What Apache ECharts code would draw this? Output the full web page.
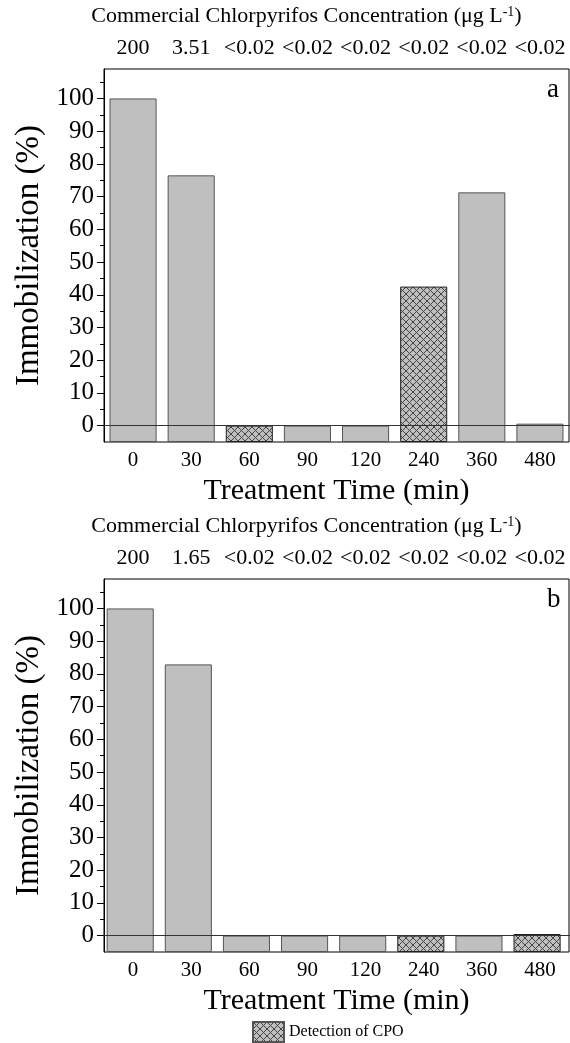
<!DOCTYPE html>
<html><head><meta charset="utf-8">
<script src="https://cdn.jsdelivr.net/npm/echarts@6/dist/echarts.min.js"></script>
<style>html,body{margin:0;padding:0;background:#fff}#c{width:570px;height:1043px}</style>
</head><body><div id="c"></div>
<script>
// ---- data ----
const categories = ['0', '30', '60', '90', '120', '240', '360', '480'];
const concLabelsA = ['200', '3.51', '<0.02', '<0.02', '<0.02', '<0.02', '<0.02', '<0.02'];
const concLabelsB = ['200', '1.65', '<0.02', '<0.02', '<0.02', '<0.02', '<0.02', '<0.02'];
const valuesA = [100, 76.5, 0, 0, 0, 42.5, 71.3, 0.6];
const valuesB = [100, 82.9, 0, 0, 0, 0, 0, 0.5];
const cpoA = [false, false, true, false, false, true, false, false];
const cpoB = [false, false, false, false, false, true, false, true];
const yMajorTicks = [0, 10, 20, 30, 40, 50, 60, 70, 80, 90, 100];
const yMinorTicks = [5, 15, 25, 35, 45, 55, 65, 75, 85, 95, 105];
const panelLetters = ['a', 'b'];
const legendName = 'Detection of CPO';
const yTitle = 'Immobilization (%)';
const xTitle = 'Treatment Time (min)';
const topTitle = 'Commercial Chlorpyrifos Concentration (μg L{sup|-1})';

// ---- styles ----
const FONT = '"Liberation Serif", "Times New Roman", serif';
const FILL = '#bfbfbf';
function hatchPattern() {
  const s = 7;
  const cv = document.createElement('canvas');
  cv.width = s; cv.height = s;
  const g = cv.getContext('2d');
  g.fillStyle = FILL; g.fillRect(0, 0, s, s);
  g.strokeStyle = '#444'; g.lineWidth = 1;
  g.beginPath();
  g.moveTo(0, 0); g.lineTo(s, s);
  g.moveTo(0, s); g.lineTo(s, 0);
  g.stroke();
  return { image: cv, repeat: 'repeat' };
}
const HATCH = hatchPattern();

const chart = echarts.init(document.getElementById('c'), null, { renderer: 'canvas' });

const grids = [
  { left: 104, top: 69, width: 465, height: 373, show: true, borderColor: '#000', borderWidth: 1, backgroundColor: 'transparent' },
  { left: 104, top: 579, width: 465, height: 373, show: true, borderColor: '#000', borderWidth: 1, backgroundColor: 'transparent' }
];

const xAxes = [], yAxes = [], series = [];
[concLabelsA, concLabelsB].forEach((conc, i) => {
  xAxes.push({
    type: 'category', gridIndex: i, position: 'bottom', data: categories,
    axisLine: { lineStyle: { color: '#000', width: 1 } },
    axisTick: { alignWithLabel: true, length: 6, lineStyle: { color: '#000' } },
    axisLabel: { margin: 8, interval: 0, fontFamily: FONT, fontSize: 21, color: '#000' },
    name: xTitle, nameLocation: 'middle', nameGap: 34,
    nameTextStyle: { fontFamily: FONT, fontSize: 30, color: '#000' }
  });
  xAxes.push({
    type: 'category', gridIndex: i, position: 'top', data: conc,
    axisLine: { lineStyle: { color: '#000', width: 1 } },
    axisTick: { alignWithLabel: true, length: 6, lineStyle: { color: '#000' } },
    axisLabel: { margin: 10, interval: 0, fontFamily: FONT, fontSize: 22, color: '#000' },
    name: topTitle, nameLocation: 'middle', nameGap: 42,
    nameTextStyle: {
      fontFamily: FONT, fontSize: 22, color: '#000', padding: [0, 60, 0, 0],
      rich: { sup: { fontFamily: FONT, fontSize: 14, color: '#000', verticalAlign: 'top', padding: [0, 0, 8, 0] } }
    }
  });
  yAxes.push({
    type: 'value', gridIndex: i, position: 'left', min: -5, max: 109, startValue: -5,
    axisLine: { show: true, lineStyle: { color: '#000', width: 1 } },
    axisTick: { show: true, length: 7, customValues: yMajorTicks, lineStyle: { color: '#000' } },
    axisLabel: { margin: 10, customValues: yMajorTicks, fontFamily: FONT, fontSize: 25, color: '#000' },
    splitLine: { show: false },
    name: yTitle, nameLocation: 'middle', nameGap: 58,
    nameTextStyle: { fontFamily: FONT, fontSize: 33, color: '#000' }
  });
  yAxes.push({
    type: 'value', gridIndex: i, position: 'left', offset: 0, min: -5, max: 109,
    axisLine: { show: false },
    axisTick: { show: true, length: 4, customValues: yMinorTicks, lineStyle: { color: '#000' } },
    axisLabel: { show: false },
    splitLine: { show: false }
  });
});

[[valuesA, cpoA], [valuesB, cpoB]].forEach(([vals, cpo], i) => {
  series.push({
    type: 'bar', name: 'Immobilization ' + panelLetters[i],
    xAxisIndex: i * 2, yAxisIndex: i * 2,
    barWidth: '81%',
    data: vals.map((v, k) => ({
      value: v,
      itemStyle: cpo[k]
        ? { color: HATCH, borderColor: '#222', borderWidth: 1 }
        : { color: FILL, borderColor: '#555', borderWidth: 1 }
    })),
    markLine: {
      silent: true, symbol: 'none', label: { show: false },
      lineStyle: { color: '#333', width: 1, type: 'solid' },
      data: [{ yAxis: 0 }]
    },
    animation: false
  });
});

series.push({
  type: 'bar', name: legendName, xAxisIndex: 2, yAxisIndex: 2, data: [],
  itemStyle: { color: HATCH, borderColor: '#555', borderWidth: 1 }, animation: false
});

chart.setOption({
  animation: false,
  backgroundColor: '#fff',
  grid: grids,
  xAxis: xAxes,
  yAxis: yAxes,
  series: series,
  legend: {
    data: [legendName], left: 252, top: 1021, icon: 'rect', padding: 0,
    itemWidth: 31, itemHeight: 20, itemGap: 6,
    textStyle: { fontFamily: FONT, fontSize: 16, color: '#000' }
  },
  graphic: panelLetters.map((t, i) => ({
    type: 'text', left: 547, top: (i === 0 ? 76 : 586),
    style: { text: t, fontFamily: FONT, fontSize: 27, fill: '#000' }
  }))
});
</script></body></html>
